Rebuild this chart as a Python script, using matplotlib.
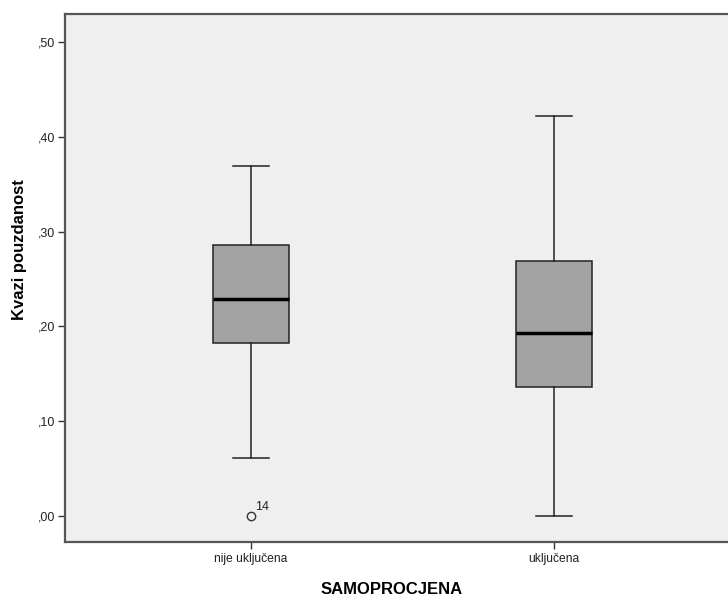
import matplotlib
matplotlib.use("Agg")
import matplotlib.pyplot as plt
from matplotlib.ticker import FuncFormatter

plt.rcParams['font.family'] = ['Liberation Sans', 'DejaVu Sans']

### Data
groups = ["nije uključena", "uključena"]
whisker_lo = [0.061, 0.000]
q1 = [0.1825, 0.136]
median = [0.229, 0.193]
q3 = [0.286, 0.269]
whisker_hi = [0.369, 0.422]
outliers = [[0.000], []]
outlier_ids = [["14"], []]

yticks = [0.0, 0.1, 0.2, 0.3, 0.4, 0.5]

### Plot
fig = plt.figure(figsize=(7.28, 5.96), dpi=100)
ax = fig.add_axes([65 / 728, 1 - 542 / 596, 675 / 728, 528 / 596])
ax.set_facecolor("#efefef")

stats = []
for i in range(len(groups)):
    stats.append(dict(label=groups[i], whislo=whisker_lo[i], q1=q1[i], med=median[i],
                      q3=q3[i], whishi=whisker_hi[i], fliers=outliers[i]))

positions = [1, 2]
ax.bxp(stats, positions=positions, widths=0.25, patch_artist=True,
       boxprops=dict(facecolor="#a3a3a3", edgecolor="#222222", linewidth=1.1),
       medianprops=dict(color="black", linewidth=2.5),
       whiskerprops=dict(color="#222222", linewidth=1.1),
       capprops=dict(color="#222222", linewidth=1.1),
       capwidths=0.12,
       flierprops=dict(marker="o", markerfacecolor="none", markeredgecolor="#333333",
                       markersize=6, markeredgewidth=1.0))

# outlier case labels
for i, pos in enumerate(positions):
    for val, lab in zip(outliers[i], outlier_ids[i]):
        ax.annotate(lab, (pos, val), xytext=(3, 4), textcoords="offset points",
                    fontsize=9, color="#222222")

ax.set_xlim(1 - 186 / 303, 2 + 186 / 303)
ax.set_ylim((516 - 542) / 948, (516 - 14) / 948)
ax.set_yticks(yticks)
ax.yaxis.set_major_formatter(FuncFormatter(lambda v, p: ("%.2f" % v)[1:].replace(".", ",")))
ax.set_xticks(positions)
ax.set_xticklabels(groups)
ax.tick_params(axis="y", labelsize=9, length=5, width=1, color="#333333", labelcolor="#222222", pad=2)
ax.tick_params(axis="x", labelsize=8.7, length=5, width=1, color="#333333", labelcolor="#222222", pad=3)

for side in ["left", "bottom", "top"]:
    ax.spines[side].set_color("#555555")
    ax.spines[side].set_linewidth(1.6)
ax.spines["right"].set_visible(False)

fig.text(20 / 728, 1 - 250 / 596, "Kvazi pouzdanost", rotation=90, fontsize=12,
         fontweight="bold", ha="center", va="center")
fig.text(392 / 728, 1 - 589 / 596, "SAMOPROCJENA", fontsize=12, fontweight="bold",
         ha="center", va="center")

plt.savefig("out.png", dpi=100)
